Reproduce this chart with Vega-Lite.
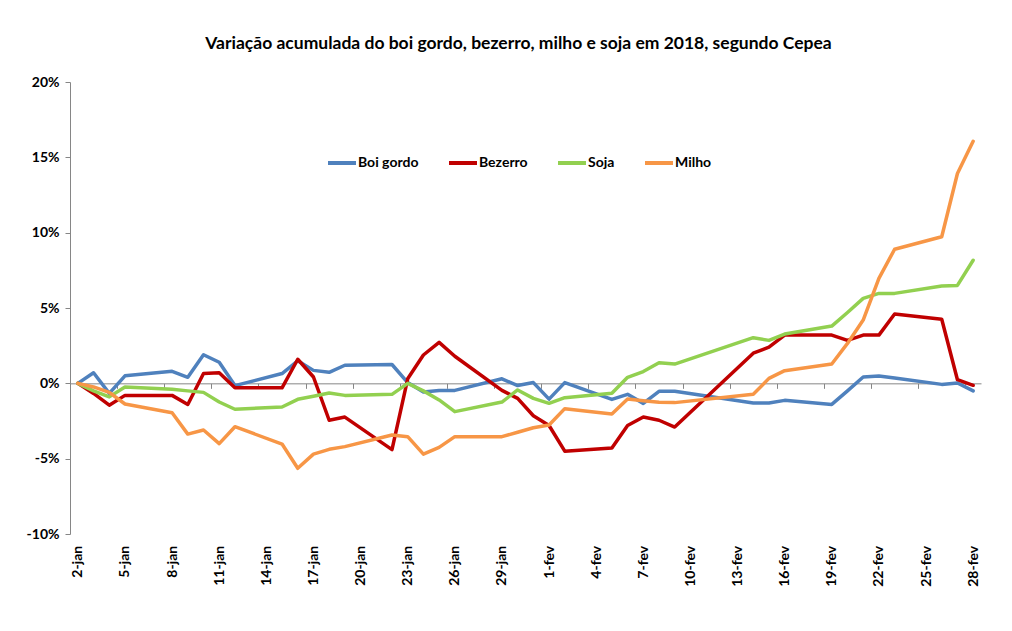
{
  "$schema": "https://vega.github.io/schema/vega-lite/v6.json",
  "width": 911,
  "height": 452,
  "autosize": {"type": "none"},
  "padding": {"left": 70, "top": 82, "right": 31, "bottom": 97},
  "background": "white",
  "title": {
    "text": "Variação acumulada do boi gordo, bezerro, milho e soja em 2018, segundo  Cepea",
    "font": "Lato",
    "fontSize": 17.5,
    "fontWeight": "bold",
    "color": "#000000",
    "anchor": "middle",
    "offset": 23,
    "dx": -7
  },
  "config": {"view": {"stroke": null}, "font": "Lato"},
  "data": {
    "values": [
      {"data": "2018-01-02", "serie": "Boi gordo", "valor": 0},
      {"data": "2018-01-03", "serie": "Boi gordo", "valor": 0.7},
      {"data": "2018-01-04", "serie": "Boi gordo", "valor": -0.67},
      {"data": "2018-01-05", "serie": "Boi gordo", "valor": 0.5},
      {"data": "2018-01-08", "serie": "Boi gordo", "valor": 0.8},
      {"data": "2018-01-09", "serie": "Boi gordo", "valor": 0.4},
      {"data": "2018-01-10", "serie": "Boi gordo", "valor": 1.9},
      {"data": "2018-01-11", "serie": "Boi gordo", "valor": 1.4},
      {"data": "2018-01-12", "serie": "Boi gordo", "valor": -0.15},
      {"data": "2018-01-15", "serie": "Boi gordo", "valor": 0.65},
      {"data": "2018-01-16", "serie": "Boi gordo", "valor": 1.5},
      {"data": "2018-01-17", "serie": "Boi gordo", "valor": 0.86},
      {"data": "2018-01-18", "serie": "Boi gordo", "valor": 0.73},
      {"data": "2018-01-19", "serie": "Boi gordo", "valor": 1.2},
      {"data": "2018-01-22", "serie": "Boi gordo", "valor": 1.25},
      {"data": "2018-01-23", "serie": "Boi gordo", "valor": 0.05},
      {"data": "2018-01-24", "serie": "Boi gordo", "valor": -0.58},
      {"data": "2018-01-25", "serie": "Boi gordo", "valor": -0.47},
      {"data": "2018-01-26", "serie": "Boi gordo", "valor": -0.47},
      {"data": "2018-01-29", "serie": "Boi gordo", "valor": 0.3},
      {"data": "2018-01-30", "serie": "Boi gordo", "valor": -0.15},
      {"data": "2018-01-31", "serie": "Boi gordo", "valor": 0.05},
      {"data": "2018-02-01", "serie": "Boi gordo", "valor": -1.05},
      {"data": "2018-02-02", "serie": "Boi gordo", "valor": 0.05},
      {"data": "2018-02-05", "serie": "Boi gordo", "valor": -1.07},
      {"data": "2018-02-06", "serie": "Boi gordo", "valor": -0.73},
      {"data": "2018-02-07", "serie": "Boi gordo", "valor": -1.33},
      {"data": "2018-02-08", "serie": "Boi gordo", "valor": -0.53},
      {"data": "2018-02-09", "serie": "Boi gordo", "valor": -0.53},
      {"data": "2018-02-14", "serie": "Boi gordo", "valor": -1.3},
      {"data": "2018-02-15", "serie": "Boi gordo", "valor": -1.3},
      {"data": "2018-02-16", "serie": "Boi gordo", "valor": -1.13},
      {"data": "2018-02-19", "serie": "Boi gordo", "valor": -1.4},
      {"data": "2018-02-20", "serie": "Boi gordo", "valor": -0.5},
      {"data": "2018-02-21", "serie": "Boi gordo", "valor": 0.42},
      {"data": "2018-02-22", "serie": "Boi gordo", "valor": 0.49},
      {"data": "2018-02-23", "serie": "Boi gordo", "valor": 0.35},
      {"data": "2018-02-26", "serie": "Boi gordo", "valor": -0.07},
      {"data": "2018-02-27", "serie": "Boi gordo", "valor": 0.02},
      {"data": "2018-02-28", "serie": "Boi gordo", "valor": -0.5},

      {"data": "2018-01-02", "serie": "Bezerro", "valor": 0},
      {"data": "2018-01-03", "serie": "Bezerro", "valor": -0.67},
      {"data": "2018-01-04", "serie": "Bezerro", "valor": -1.45},
      {"data": "2018-01-05", "serie": "Bezerro", "valor": -0.8},
      {"data": "2018-01-08", "serie": "Bezerro", "valor": -0.8},
      {"data": "2018-01-09", "serie": "Bezerro", "valor": -1.4},
      {"data": "2018-01-10", "serie": "Bezerro", "valor": 0.65},
      {"data": "2018-01-11", "serie": "Bezerro", "valor": 0.7},
      {"data": "2018-01-12", "serie": "Bezerro", "valor": -0.3},
      {"data": "2018-01-15", "serie": "Bezerro", "valor": -0.3},
      {"data": "2018-01-16", "serie": "Bezerro", "valor": 1.6},
      {"data": "2018-01-17", "serie": "Bezerro", "valor": 0.42},
      {"data": "2018-01-18", "serie": "Bezerro", "valor": -2.45},
      {"data": "2018-01-19", "serie": "Bezerro", "valor": -2.24},
      {"data": "2018-01-22", "serie": "Bezerro", "valor": -4.4},
      {"data": "2018-01-23", "serie": "Bezerro", "valor": 0.3},
      {"data": "2018-01-24", "serie": "Bezerro", "valor": 1.88},
      {"data": "2018-01-25", "serie": "Bezerro", "valor": 2.72},
      {"data": "2018-01-26", "serie": "Bezerro", "valor": 1.8},
      {"data": "2018-01-29", "serie": "Bezerro", "valor": -0.47},
      {"data": "2018-01-30", "serie": "Bezerro", "valor": -1.0},
      {"data": "2018-01-31", "serie": "Bezerro", "valor": -2.15},
      {"data": "2018-02-01", "serie": "Bezerro", "valor": -2.8},
      {"data": "2018-02-02", "serie": "Bezerro", "valor": -4.5},
      {"data": "2018-02-05", "serie": "Bezerro", "valor": -4.3},
      {"data": "2018-02-06", "serie": "Bezerro", "valor": -2.8},
      {"data": "2018-02-07", "serie": "Bezerro", "valor": -2.24},
      {"data": "2018-02-08", "serie": "Bezerro", "valor": -2.45},
      {"data": "2018-02-09", "serie": "Bezerro", "valor": -2.9},
      {"data": "2018-02-14", "serie": "Bezerro", "valor": 2.0},
      {"data": "2018-02-15", "serie": "Bezerro", "valor": 2.4},
      {"data": "2018-02-16", "serie": "Bezerro", "valor": 3.2},
      {"data": "2018-02-19", "serie": "Bezerro", "valor": 3.2},
      {"data": "2018-02-20", "serie": "Bezerro", "valor": 2.85},
      {"data": "2018-02-21", "serie": "Bezerro", "valor": 3.2},
      {"data": "2018-02-22", "serie": "Bezerro", "valor": 3.2},
      {"data": "2018-02-23", "serie": "Bezerro", "valor": 4.6},
      {"data": "2018-02-26", "serie": "Bezerro", "valor": 4.25},
      {"data": "2018-02-27", "serie": "Bezerro", "valor": 0.24},
      {"data": "2018-02-28", "serie": "Bezerro", "valor": -0.13},

      {"data": "2018-01-02", "serie": "Soja", "valor": 0},
      {"data": "2018-01-03", "serie": "Soja", "valor": -0.5},
      {"data": "2018-01-04", "serie": "Soja", "valor": -0.9},
      {"data": "2018-01-05", "serie": "Soja", "valor": -0.24},
      {"data": "2018-01-08", "serie": "Soja", "valor": -0.4},
      {"data": "2018-01-09", "serie": "Soja", "valor": -0.5},
      {"data": "2018-01-10", "serie": "Soja", "valor": -0.6},
      {"data": "2018-01-11", "serie": "Soja", "valor": -1.24},
      {"data": "2018-01-12", "serie": "Soja", "valor": -1.72},
      {"data": "2018-01-15", "serie": "Soja", "valor": -1.57},
      {"data": "2018-01-16", "serie": "Soja", "valor": -1.06},
      {"data": "2018-01-17", "serie": "Soja", "valor": -0.86},
      {"data": "2018-01-18", "serie": "Soja", "valor": -0.64},
      {"data": "2018-01-19", "serie": "Soja", "valor": -0.8},
      {"data": "2018-01-22", "serie": "Soja", "valor": -0.73},
      {"data": "2018-01-23", "serie": "Soja", "valor": 0},
      {"data": "2018-01-24", "serie": "Soja", "valor": -0.5},
      {"data": "2018-01-25", "serie": "Soja", "valor": -1.1},
      {"data": "2018-01-26", "serie": "Soja", "valor": -1.88},
      {"data": "2018-01-29", "serie": "Soja", "valor": -1.24},
      {"data": "2018-01-30", "serie": "Soja", "valor": -0.44},
      {"data": "2018-01-31", "serie": "Soja", "valor": -1.0},
      {"data": "2018-02-01", "serie": "Soja", "valor": -1.33},
      {"data": "2018-02-02", "serie": "Soja", "valor": -0.95},
      {"data": "2018-02-05", "serie": "Soja", "valor": -0.66},
      {"data": "2018-02-06", "serie": "Soja", "valor": 0.4},
      {"data": "2018-02-07", "serie": "Soja", "valor": 0.78},
      {"data": "2018-02-08", "serie": "Soja", "valor": 1.37},
      {"data": "2018-02-09", "serie": "Soja", "valor": 1.28},
      {"data": "2018-02-14", "serie": "Soja", "valor": 3.03},
      {"data": "2018-02-15", "serie": "Soja", "valor": 2.85},
      {"data": "2018-02-16", "serie": "Soja", "valor": 3.27},
      {"data": "2018-02-19", "serie": "Soja", "valor": 3.8},
      {"data": "2018-02-20", "serie": "Soja", "valor": 4.7},
      {"data": "2018-02-21", "serie": "Soja", "valor": 5.64},
      {"data": "2018-02-22", "serie": "Soja", "valor": 5.97},
      {"data": "2018-02-23", "serie": "Soja", "valor": 5.97},
      {"data": "2018-02-26", "serie": "Soja", "valor": 6.46},
      {"data": "2018-02-27", "serie": "Soja", "valor": 6.5},
      {"data": "2018-02-28", "serie": "Soja", "valor": 8.17},

      {"data": "2018-01-02", "serie": "Milho", "valor": 0},
      {"data": "2018-01-03", "serie": "Milho", "valor": -0.24},
      {"data": "2018-01-04", "serie": "Milho", "valor": -0.6},
      {"data": "2018-01-05", "serie": "Milho", "valor": -1.37},
      {"data": "2018-01-08", "serie": "Milho", "valor": -1.95},
      {"data": "2018-01-09", "serie": "Milho", "valor": -3.37},
      {"data": "2018-01-10", "serie": "Milho", "valor": -3.1},
      {"data": "2018-01-11", "serie": "Milho", "valor": -4.0},
      {"data": "2018-01-12", "serie": "Milho", "valor": -2.88},
      {"data": "2018-01-15", "serie": "Milho", "valor": -4.03},
      {"data": "2018-01-16", "serie": "Milho", "valor": -5.64},
      {"data": "2018-01-17", "serie": "Milho", "valor": -4.7},
      {"data": "2018-01-18", "serie": "Milho", "valor": -4.38},
      {"data": "2018-01-19", "serie": "Milho", "valor": -4.2},
      {"data": "2018-01-22", "serie": "Milho", "valor": -3.43},
      {"data": "2018-01-23", "serie": "Milho", "valor": -3.54},
      {"data": "2018-01-24", "serie": "Milho", "valor": -4.7},
      {"data": "2018-01-25", "serie": "Milho", "valor": -4.25},
      {"data": "2018-01-26", "serie": "Milho", "valor": -3.54},
      {"data": "2018-01-29", "serie": "Milho", "valor": -3.54},
      {"data": "2018-01-30", "serie": "Milho", "valor": -3.25},
      {"data": "2018-01-31", "serie": "Milho", "valor": -2.95},
      {"data": "2018-02-01", "serie": "Milho", "valor": -2.77},
      {"data": "2018-02-02", "serie": "Milho", "valor": -1.68},
      {"data": "2018-02-05", "serie": "Milho", "valor": -2.04},
      {"data": "2018-02-06", "serie": "Milho", "valor": -1.04},
      {"data": "2018-02-07", "serie": "Milho", "valor": -1.15},
      {"data": "2018-02-08", "serie": "Milho", "valor": -1.26},
      {"data": "2018-02-09", "serie": "Milho", "valor": -1.28},
      {"data": "2018-02-14", "serie": "Milho", "valor": -0.73},
      {"data": "2018-02-15", "serie": "Milho", "valor": 0.33},
      {"data": "2018-02-16", "serie": "Milho", "valor": 0.84},
      {"data": "2018-02-19", "serie": "Milho", "valor": 1.28},
      {"data": "2018-02-20", "serie": "Milho", "valor": 2.65},
      {"data": "2018-02-21", "serie": "Milho", "valor": 4.2},
      {"data": "2018-02-22", "serie": "Milho", "valor": 6.97},
      {"data": "2018-02-23", "serie": "Milho", "valor": 8.9},
      {"data": "2018-02-26", "serie": "Milho", "valor": 9.73},
      {"data": "2018-02-27", "serie": "Milho", "valor": 13.93},
      {"data": "2018-02-28", "serie": "Milho", "valor": 16.07}
    ]
  },
  "mark": {"type": "line", "strokeWidth": 3.5, "strokeJoin": "round", "strokeCap": "round"},
  "encoding": {
    "x": {
      "field": "data",
      "type": "temporal",
      "scale": {"type": "utc", "domain": [1514808000000, 1519819200000]},
      "axis": {
        "orient": "bottom",
        "offset": -150.67,
        "values": [1514851200000, 1515110400000, 1515369600000, 1515628800000, 1515888000000, 1516147200000, 1516406400000, 1516665600000, 1516924800000, 1517184000000, 1517443200000, 1517702400000, 1517961600000, 1518220800000, 1518480000000, 1518739200000, 1518998400000, 1519257600000, 1519516800000, 1519776000000],
        "labelExpr": "utcdate(datum.value) + '-' + (utcmonth(datum.value) == 0 ? 'jan' : 'fev')",
        "domainColor": "#868686",
        "tickColor": "#868686",
        "tickSize": 5,
        "tickOffset": -7.85,
        "labelOffset": 7.85,
        "labelAngle": 270,
        "labelAlign": "right",
        "labelBaseline": "middle",
        "labelPadding": 157,
        "labelFont": "Lato",
        "labelFontSize": 14,
        "labelFontWeight": "bold",
        "labelColor": "#000000",
        "labelOverlap": false,
        "labelBound": false,
        "labelFlush": false,
        "grid": false,
        "title": null
      }
    },
    "y": {
      "field": "valor",
      "type": "quantitative",
      "scale": {"domain": [-10, 20], "nice": false, "zero": false},
      "axis": {
        "values": [-10, -5, 0, 5, 10, 15, 20],
        "labelExpr": "datum.value + '%'",
        "domainColor": "#868686",
        "tickColor": "#868686",
        "tickSize": 5,
        "labelPadding": 6,
        "labelFont": "Lato",
        "labelFontSize": 14,
        "labelFontWeight": "bold",
        "labelColor": "#000000",
        "grid": false,
        "title": null
      }
    },
    "color": {
      "field": "serie",
      "type": "nominal",
      "scale": {
        "domain": ["Boi gordo", "Bezerro", "Soja", "Milho"],
        "range": ["#4F81BD", "#C00000", "#92D050", "#F79646"]
      },
      "legend": {
        "orient": "none",
        "legendX": 256,
        "legendY": 65,
        "direction": "horizontal",
        "title": null,
        "symbolType": "stroke",
        "symbolSize": 784,
        "symbolStrokeWidth": 4,
        "labelFont": "Lato",
        "labelFontSize": 14,
        "labelFontWeight": "bold",
        "labelColor": "#000000",
        "labelOffset": 0,
        "columnPadding": 22,
        "padding": 0
      }
    }
  }
}
